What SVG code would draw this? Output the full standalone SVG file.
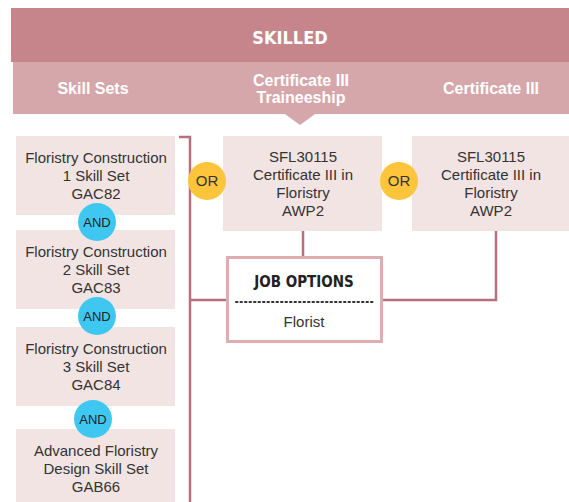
<svg xmlns="http://www.w3.org/2000/svg" width="569" height="502" viewBox="0 0 569 502">
<style>
.box{fill:#f1e4e3}
.t{font-family:"Liberation Sans",Arial,sans-serif;font-size:15px;fill:#333;text-anchor:middle}
.h{font-family:"Liberation Sans",Arial,sans-serif;font-size:16px;font-weight:bold;fill:#fff;text-anchor:middle}
.c{fill:none;stroke:#b8707f;stroke-width:2.5}
.and{fill:#3ec8f1}
.or{fill:#fdc43c}
.ct{font-family:"Liberation Sans",Arial,sans-serif;font-size:13px;fill:#222;text-anchor:middle}
</style>
<rect width="569" height="502" fill="#fff"/>
<g id="header">
<rect x="11" y="8" width="558" height="54" fill="#c6858b"/>
<text x="290" y="44" font-family="'DejaVu Sans Condensed','DejaVu Sans',sans-serif" font-size="18" font-weight="bold" fill="#fff" text-anchor="middle">SKILLED</text>
<rect x="13" y="62" width="556" height="52" fill="#d5a7aa"/>
<polygon points="285,114 315,114 300,125" fill="#d5a7aa"/>
<text class="h" x="93" y="94">Skill Sets</text>
<text class="h" x="301" y="86">Certificate III</text>
<text class="h" x="301" y="103">Traineeship</text>
<text class="h" x="491" y="94">Certificate III</text>
</g>
<g id="connectors">
<path class="c" d="M179,137 H190 V502"/>
<path class="c" d="M190,300 H226"/>
<path class="c" d="M303,231 V256"/>
<path class="c" d="M496,231 V300 H383"/>
</g>
<g id="skill1">
<rect class="box" x="16" y="136" width="159" height="79"/>
<text class="t" x="96" y="163">Floristry Construction</text>
<text class="t" x="96" y="181">1 Skill Set</text>
<text class="t" x="96" y="199">GAC82</text>
</g>
<g id="skill2">
<rect class="box" x="16" y="230" width="159" height="79"/>
<text class="t" x="96" y="257">Floristry Construction</text>
<text class="t" x="96" y="275">2 Skill Set</text>
<text class="t" x="96" y="293">GAC83</text>
</g>
<g id="skill3">
<rect class="box" x="16" y="327" width="159" height="79"/>
<text class="t" x="96" y="354">Floristry Construction</text>
<text class="t" x="96" y="372">3 Skill Set</text>
<text class="t" x="96" y="390">GAC84</text>
</g>
<g id="skill4">
<rect class="box" x="16" y="429" width="159" height="73"/>
<text class="t" x="96" y="456">Advanced Floristry</text>
<text class="t" x="96" y="474">Design Skill Set</text>
<text class="t" x="96" y="492">GAB66</text>
</g>
<g id="and1"><circle class="and" cx="97" cy="222" r="19"/><text class="ct" x="97" y="227">AND</text></g>
<g id="and2"><circle class="and" cx="97" cy="316" r="19"/><text class="ct" x="97" y="321">AND</text></g>
<g id="and3"><circle class="and" cx="93" cy="419" r="19"/><text class="ct" x="93" y="424">AND</text></g>
<g id="trainee">
<rect class="box" x="223" y="136" width="159" height="95"/>
<text class="t" x="303" y="162">SFL30115</text>
<text class="t" x="303" y="180">Certificate III in</text>
<text class="t" x="303" y="198">Floristry</text>
<text class="t" x="303" y="216">AWP2</text>
</g>
<g id="cert3">
<rect class="box" x="412" y="136" width="157" height="95"/>
<text class="t" x="491" y="162">SFL30115</text>
<text class="t" x="491" y="180">Certificate III in</text>
<text class="t" x="491" y="198">Floristry</text>
<text class="t" x="491" y="216">AWP2</text>
</g>
<g id="or1"><circle class="or" cx="207" cy="181" r="19"/><text class="t" x="207" y="186">OR</text></g>
<g id="or2"><circle class="or" cx="399" cy="181" r="19"/><text class="t" x="399" y="186">OR</text></g>
<g id="jobs">
<rect x="227.5" y="257.5" width="154" height="84" fill="#fff" stroke="#dcaeb2" stroke-width="3"/>
<text x="304" y="287" font-family="'DejaVu Sans Condensed','DejaVu Sans',sans-serif" font-size="15" font-weight="bold" fill="#222" text-anchor="middle">JOB OPTIONS</text>
<line x1="236" y1="302" x2="375" y2="302" stroke="#333" stroke-width="2" stroke-dasharray="1.5 3" stroke-linecap="round"/>
<text class="t" x="304" y="327">Florist</text>
</g>
</svg>
